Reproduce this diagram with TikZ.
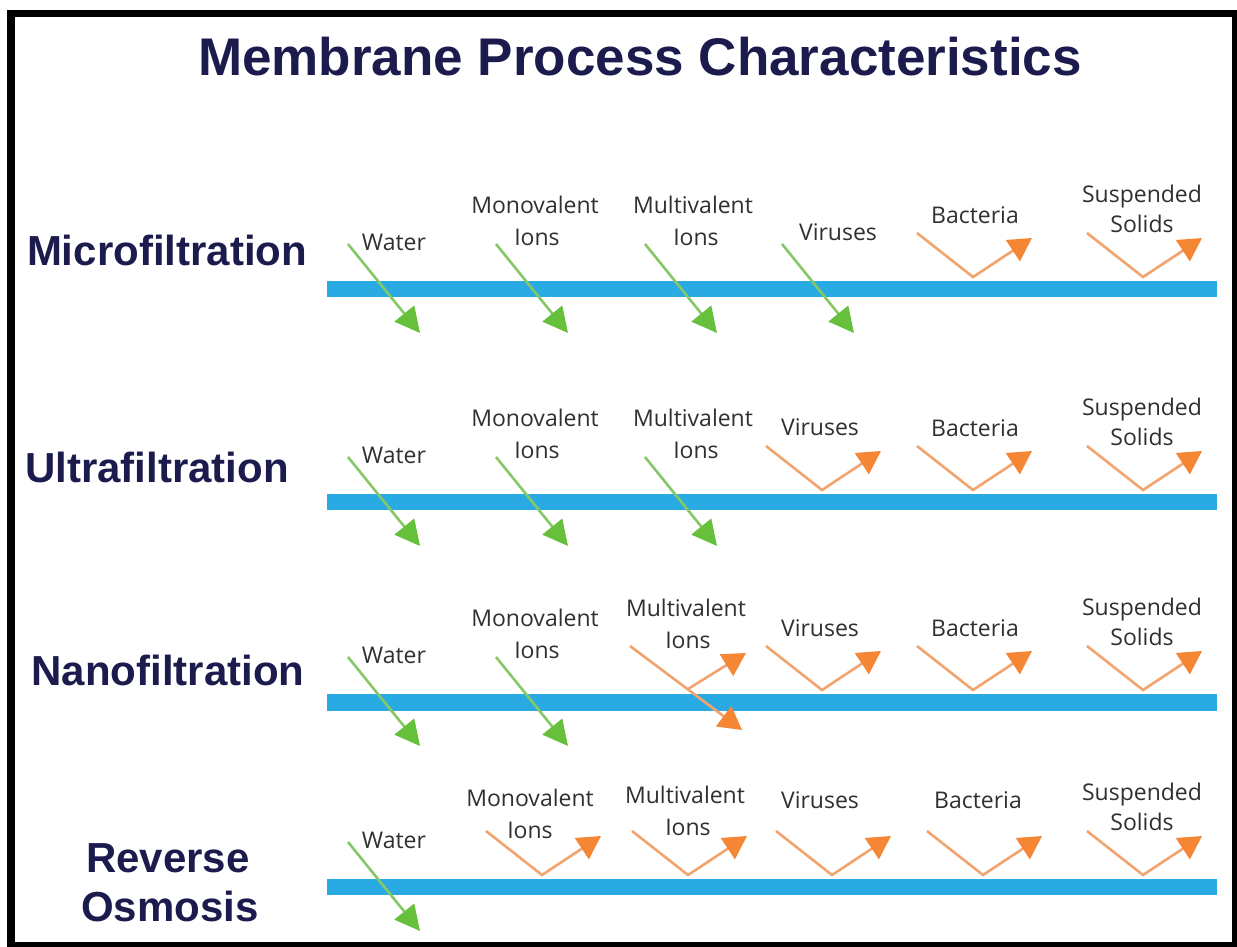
\documentclass[tikz,border=0pt]{standalone}
\usepackage{fontspec}
\usetikzlibrary{arrows.meta}
\setmainfont{Open Sans}
\newfontfamily\headfont{Liberation Sans}
\definecolor{navy}{HTML}{1C1B4D}
\definecolor{txtgrey}{HTML}{303030}
\definecolor{barblue}{HTML}{29AAE3}
\definecolor{gline}{HTML}{86C867}
\definecolor{ghead}{HTML}{66C03C}
\definecolor{oline}{HTML}{F2A46E}
\definecolor{ohead}{HTML}{F58634}
\tikzset{
  lab/.style={anchor=base, text=txtgrey, font=\fontsize{23}{27}\selectfont, inner sep=0pt},
  rowhead/.style={anchor=base, text=navy, font=\headfont\bfseries\fontsize{42}{48}\selectfont, inner sep=0pt},
  membrane/.style={fill=barblue, draw=none},
  passar/.style={draw=gline, line width=2.6pt, -{Triangle[length=25pt,width=25pt,color=ghead,fill=ghead]}},
  rejar/.style={draw=oline, line width=2.6pt, -{Triangle[length=23pt,width=25pt,color=ohead,fill=ohead]}}
}
% pass arrow: name, start x, bar top
\newcommand\passarrow[3]{%
  \coordinate (#1s) at (#2,#3-37);
  \coordinate (#1e) at (#2+72,#3+52);
  \draw[passar] (#1s) -- (#1e);}
% reject arrow: name, vertex x, bar top
\newcommand\rejarrow[3]{%
  \coordinate (#1s) at (#2-56,#3-48);
  \coordinate (#1v) at (#2,#3-4);
  \coordinate (#1e) at (#2+59,#3-43);
  \draw[rejar] (#1s) -- (#1v) -- (#1e);}
\newcommand\lab[4]{\node[lab] (#1) at (#2,#3) {#4};}
\begin{document}
\begin{tikzpicture}[x=1pt,y=-1pt]
\fill[white] (0,0) rectangle (1237,947);
\useasboundingbox (0,0) rectangle (1237,947);
% frame
\fill[black] (7,10) rectangle (1237,17);
\fill[black] (7,10) rectangle (15,947);
\fill[black] (1232,10) rectangle (1237,947);
\fill[black] (7,942) rectangle (1237,947);
% title
\node[anchor=base, text=navy, font=\headfont\bfseries\fontsize{53}{60}\selectfont, inner sep=0pt] (title) at (640,76) {Membrane Process Characteristics};
% row headings
\node[rowhead] (h1) at (167,265) {Microfiltration};
\node[rowhead] (h2) at (157,482) {Ultrafiltration};
\node[rowhead] (h3) at (168,685) {Nanofiltration};
\node[rowhead] (h4a) at (168,872) {Reverse};
\node[rowhead] (h4b) at (170,921) {Osmosis};
% membranes
\fill[membrane] (327,281) rectangle (1217,297);
\fill[membrane] (327,494) rectangle (1217,510);
\fill[membrane] (327,694) rectangle (1217,711);
\fill[membrane] (327,879) rectangle (1217,895);
% ---- row 1
\lab{a1}{394}{250}{Water}
\lab{a2}{535}{213}{Monovalent}\lab{a2b}{537}{245}{Ions}
\lab{a3}{693}{213}{Multivalent}\lab{a3b}{696}{245}{Ions}
\lab{a4}{838}{240}{Viruses}
\lab{a5}{975}{223}{Bacteria}
\lab{a6}{1142}{202}{Suspended}\lab{a6b}{1142}{232}{Solids}
\passarrow{pa1}{348}{281}
\passarrow{pa2}{496}{281}
\passarrow{pa3}{645}{281}
\passarrow{pa4}{782}{281}
\rejarrow{ra5}{973}{281}
\rejarrow{ra6}{1143}{281}
% ---- row 2
\lab{b1}{394}{463}{Water}
\lab{b2}{535}{426}{Monovalent}\lab{b2b}{537}{458}{Ions}
\lab{b3}{693}{426}{Multivalent}\lab{b3b}{696}{458}{Ions}
\lab{b4}{820}{435}{Viruses}
\lab{b5}{975}{436}{Bacteria}
\lab{b6}{1142}{415}{Suspended}\lab{b6b}{1142}{445}{Solids}
\passarrow{pb1}{348}{494}
\passarrow{pb2}{496}{494}
\passarrow{pb3}{645}{494}
\rejarrow{rb4}{822}{494}
\rejarrow{rb5}{973}{494}
\rejarrow{rb6}{1143}{494}
% ---- row 3
\lab{c1}{394}{663}{Water}
\lab{c2}{535}{626}{Monovalent}\lab{c2b}{537}{658}{Ions}
\lab{c3}{686}{616}{Multivalent}\lab{c3b}{688}{648}{Ions}
\lab{c4}{820}{636}{Viruses}
\lab{c5}{975}{636}{Bacteria}
\lab{c6}{1142}{615}{Suspended}\lab{c6b}{1142}{645}{Solids}
\passarrow{pc1}{348}{694}
\passarrow{pc2}{496}{694}
\coordinate (mvs) at (630,646);
\coordinate (mvv) at (688,689);
\coordinate (mvlow) at (742,730);
\coordinate (mvup) at (746,653);
\draw[rejar] (mvs) -- (mvlow);
\draw[rejar] (mvv) -- (mvup);
\rejarrow{rc4}{822}{694}
\rejarrow{rc5}{973}{694}
\rejarrow{rc6}{1143}{694}
% ---- row 4
\lab{d1}{394}{848}{Water}
\lab{d2}{530}{806}{Monovalent}\lab{d2b}{530}{838}{Ions}
\lab{d3}{685}{803}{Multivalent}\lab{d3b}{688}{835}{Ions}
\lab{d4}{820}{808}{Viruses}
\lab{d5}{978}{808}{Bacteria}
\lab{d6}{1142}{800}{Suspended}\lab{d6b}{1142}{830}{Solids}
\passarrow{pd1}{348}{879}
\rejarrow{rd2}{542}{879}
\rejarrow{rd3}{688}{879}
\rejarrow{rd4}{832}{879}
\rejarrow{rd5}{983}{879}
\rejarrow{rd6}{1143}{879}
\end{tikzpicture}
\end{document}
